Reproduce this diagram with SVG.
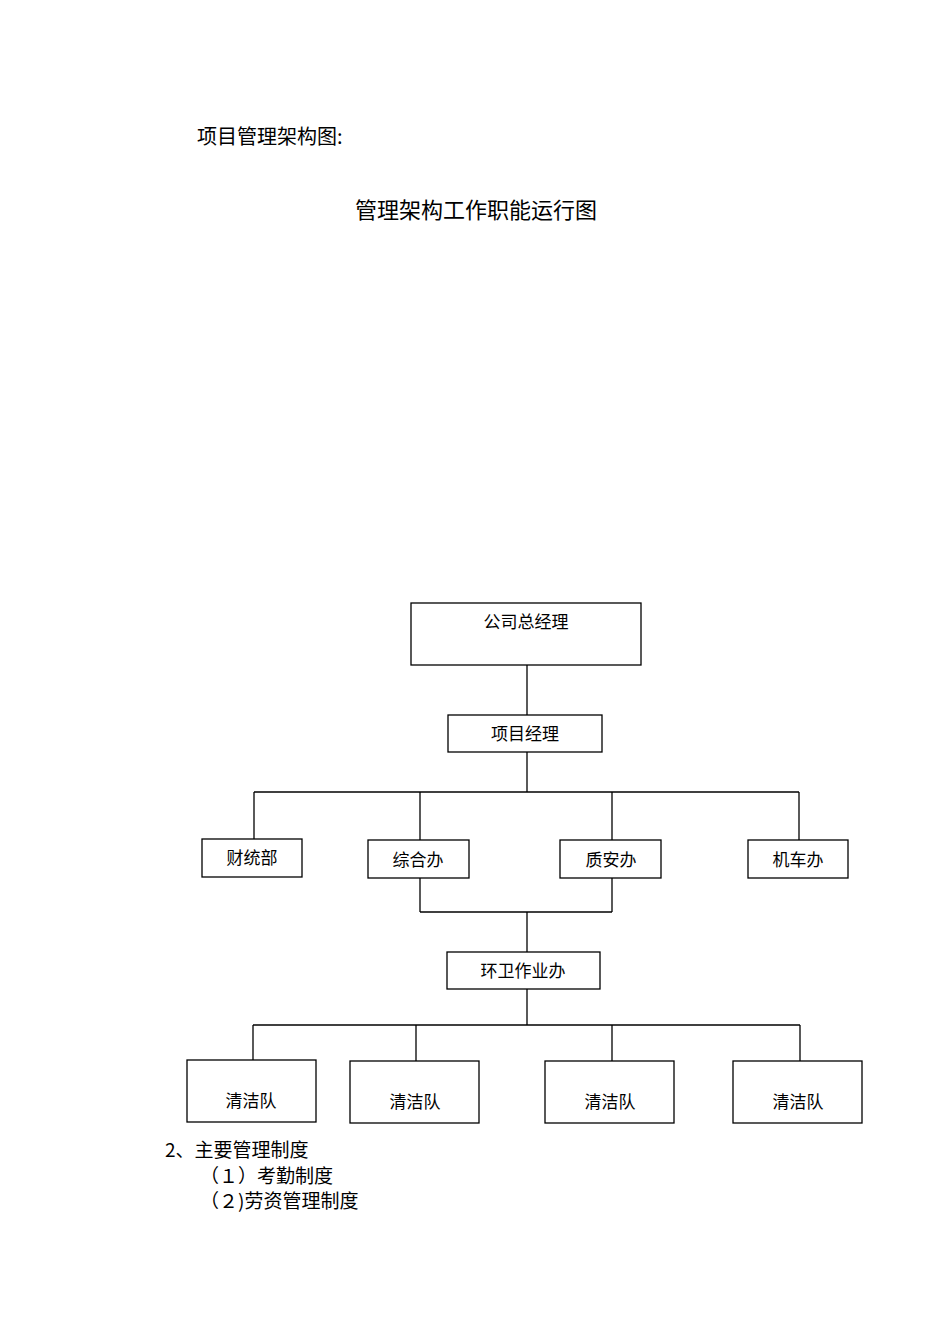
<svg xmlns="http://www.w3.org/2000/svg" width="950" height="1344" viewBox="0 0 950 1344">
<style>
.b{fill:#fff;stroke:#000;stroke-width:1.3}
.t{font-family:"Noto Sans CJK SC","Liberation Serif",serif;font-size:17px;fill:#000}
.c{text-anchor:middle}
.h{font-family:"Noto Sans CJK SC","Liberation Serif",serif;font-size:20px;fill:#000}
.l{font-family:"Noto Sans CJK SC","Liberation Serif",serif;font-size:19px;fill:#000}
#conn line{stroke:#000;stroke-width:1.3}
</style>
<rect width="950" height="1344" fill="#fff"/>
<text class="h" x="197" y="144">项目管理架构图:</text>
<text class="h" x="476" y="218" text-anchor="middle" style="font-size:22px">管理架构工作职能运行图</text>
<g id="conn">
<line x1="527" y1="665" x2="527" y2="715"/>
<line x1="527" y1="752" x2="527" y2="792"/>
<line x1="254" y1="792" x2="799" y2="792"/>
<line x1="254" y1="792" x2="254" y2="839"/>
<line x1="420" y1="792" x2="420" y2="840"/>
<line x1="612" y1="792" x2="612" y2="840"/>
<line x1="799" y1="792" x2="799" y2="840"/>
<line x1="420" y1="878" x2="420" y2="912"/>
<line x1="612" y1="878" x2="612" y2="912"/>
<line x1="420" y1="912" x2="612" y2="912"/>
<line x1="527" y1="912" x2="527" y2="952"/>
<line x1="527" y1="989" x2="527" y2="1025"/>
<line x1="253" y1="1025" x2="800" y2="1025"/>
<line x1="253" y1="1025" x2="253" y2="1060"/>
<line x1="416" y1="1025" x2="416" y2="1061"/>
<line x1="612" y1="1025" x2="612" y2="1061"/>
<line x1="800" y1="1025" x2="800" y2="1061"/>
</g>
<g id="n1"><rect class="b" x="411" y="603" width="230" height="62"/><text class="t c" x="526" y="628">公司总经理</text></g>
<g id="n2"><rect class="b" x="448" y="715" width="154" height="37"/><text class="t c" x="525" y="740">项目经理</text></g>
<g id="n3"><rect class="b" x="202" y="839" width="100" height="38"/><text class="t c" x="252" y="864">财统部</text></g>
<g id="n4"><rect class="b" x="368" y="840" width="101" height="38"/><text class="t c" x="418" y="866">综合办</text></g>
<g id="n5"><rect class="b" x="560" y="840" width="101" height="38"/><text class="t c" x="611" y="866">质安办</text></g>
<g id="n6"><rect class="b" x="748" y="840" width="100" height="38"/><text class="t c" x="798" y="866">机车办</text></g>
<g id="n7"><rect class="b" x="447" y="952" width="153" height="37"/><text class="t c" x="523" y="977">环卫作业办</text></g>
<g id="n8"><rect class="b" x="187" y="1060" width="129" height="62"/><text class="t c" x="251" y="1107">清洁队</text></g>
<g id="n9"><rect class="b" x="350" y="1061" width="129" height="62"/><text class="t c" x="415" y="1108">清洁队</text></g>
<g id="n10"><rect class="b" x="545" y="1061" width="129" height="62"/><text class="t c" x="610" y="1108">清洁队</text></g>
<g id="n11"><rect class="b" x="733" y="1061" width="129" height="62"/><text class="t c" x="798" y="1108">清洁队</text></g>
<text class="l" x="165" y="1157">2、主要管理制度</text>
<text class="l" x="200" y="1183">（１）考勤制度</text>
<text class="l" x="200" y="1208">（２)劳资管理制度</text>
</svg>
